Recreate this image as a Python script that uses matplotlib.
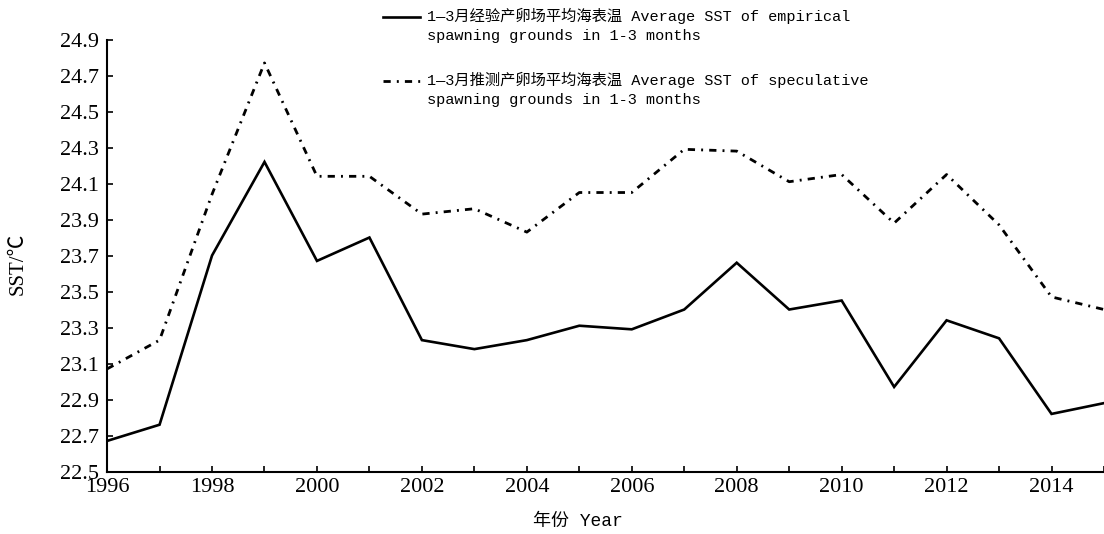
import matplotlib
matplotlib.use("Agg")
import matplotlib.pyplot as plt
from matplotlib.lines import Line2D

years = list(range(1996, 2016))
empirical = [22.67, 22.76, 23.70, 24.22, 23.67, 23.80, 23.23, 23.18, 23.23, 23.31,
             23.29, 23.40, 23.66, 23.40, 23.45, 22.97, 23.34, 23.24, 22.82, 22.88]
speculative = [23.07, 23.23, 24.04, 24.77, 24.14, 24.14, 23.93, 23.96, 23.83, 24.05,
               24.05, 24.29, 24.28, 24.11, 24.15, 23.88, 24.15, 23.87, 23.47, 23.40]
yticks = [22.5, 22.7, 22.9, 23.1, 23.3, 23.5, 23.7, 23.9, 24.1, 24.3, 24.5, 24.7, 24.9]
xticks = list(range(1996, 2016, 2))

label_emp = "1—3月经验产卵场平均海表温 Average SST of empirical\nspawning grounds in 1-3 months"
label_spec = "1—3月推测产卵场平均海表温 Average SST of speculative\nspawning grounds in 1-3 months"

serif = ["Liberation Serif", "Noto Sans CJK SC"]
legfont = ["Liberation Mono", "Noto Sans CJK SC"]
dashdot = (0, (2.6, 2.2, 0.7, 2.2))

fig = plt.figure(figsize=(11.04, 5.34), dpi=100)
ax = fig.add_axes([0.097, 0.117, 0.903, 0.809])

ax.plot(years, empirical, color="black", lw=1.9, solid_joinstyle="miter")
ax.plot(years, speculative, color="black", lw=2.0, linestyle=dashdot)

ax.set_xlim(1996, 2015)
ax.set_ylim(22.5, 24.9)
ax.set_xticks(xticks)
ax.set_xticks(years, minor=True)
ax.set_yticks(yticks)
ax.set_yticklabels([f"{v:.1f}" for v in yticks], family=serif, fontsize=16)
ax.set_xticklabels([str(v) for v in xticks], family=serif, fontsize=16)
ax.tick_params(direction="in", length=4, width=1.2)
ax.tick_params(which="minor", direction="in", length=4, width=1.2)
ax.tick_params(axis="x", pad=5)
ax.tick_params(axis="y", pad=6)

for s in ["top", "right"]:
    ax.spines[s].set_visible(False)
for s in ["left", "bottom"]:
    ax.spines[s].set_linewidth(1.5)

ax.set_xlabel("年份 Year", family=legfont, fontsize=13)
ax.xaxis.set_label_coords(0.472, -0.096)
ax.set_ylabel("SST/℃", family=serif, fontsize=15)
ax.yaxis.set_label_coords(-0.08, 0.48)

# legend drawn by hand so the handle sits on the first line of text
fig.add_artist(Line2D([383 / 1104, 420 / 1104], [1 - 17 / 534, 1 - 17 / 534],
                      color="black", lw=1.9, transform=fig.transFigure))
fig.add_artist(Line2D([383 / 1104, 420 / 1104], [1 - 81 / 534, 1 - 81 / 534],
                      color="black", lw=2.0, linestyle=dashdot, transform=fig.transFigure))
fig.text(427 / 1104, 1 - 8 / 534, label_emp, family=legfont, fontsize=11,
         va="top", ha="left", linespacing=1.45)
fig.text(427 / 1104, 1 - 72 / 534, label_spec, family=legfont, fontsize=11,
         va="top", ha="left", linespacing=1.45)

fig.savefig("out.png", dpi=100)
